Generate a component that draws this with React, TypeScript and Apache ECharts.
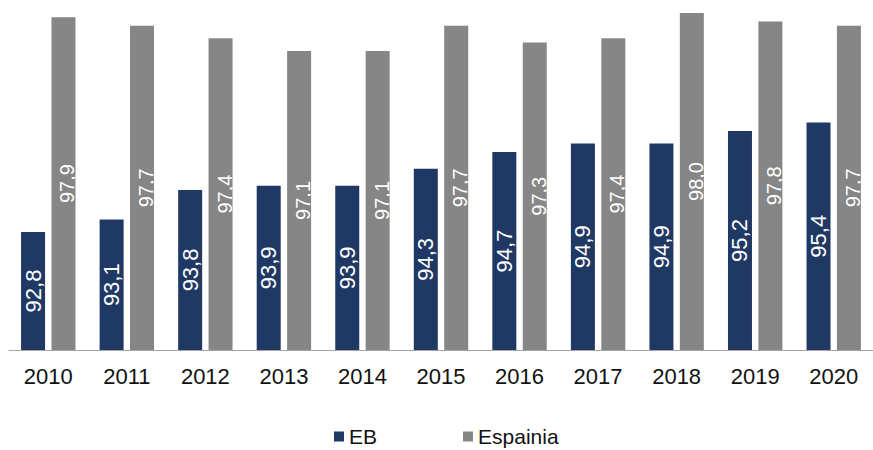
import React, { useEffect, useRef } from "react";
import * as echarts from "echarts";

const years = ["2010", "2011", "2012", "2013", "2014", "2015", "2016", "2017", "2018", "2019", "2020"];
const ebValues = [92.8, 93.1, 93.8, 93.9, 93.9, 94.3, 94.7, 94.9, 94.9, 95.2, 95.4];
const espainiaValues = [97.9, 97.7, 97.4, 97.1, 97.1, 97.7, 97.3, 97.4, 98.0, 97.8, 97.7];

const FONT = "Arial, 'Liberation Sans', sans-serif";
const fmt = (p: any) => Number(p.value).toFixed(1).replace(".", ",");

export default function App() {
  const ref = useRef<HTMLDivElement>(null);
  useEffect(() => {
    if (!ref.current) return;
    const chart = echarts.init(ref.current, null, { renderer: "svg" });
    chart.setOption({
      animation: false,
      backgroundColor: "#ffffff",
      grid: { left: 9, width: 876, top: 13, height: 337, containLabel: false },
      legend: {
        left: 334,
        top: 426,
        padding: 0,
        itemWidth: 10,
        itemHeight: 10,
        itemGap: 86,
        icon: "rect",
        textStyle: { fontFamily: FONT, fontSize: 21, lineHeight: 18, color: "#111111" },
        data: ["EB", "Espainia"],
      },
      xAxis: {
        type: "category",
        data: years,
        axisLine: { show: true, lineStyle: { color: "#a6a6a6", width: 1 } },
        axisTick: { show: false },
        axisLabel: { fontFamily: FONT, fontSize: 22, color: "#111111", margin: 15 },
        splitLine: { show: false },
      },
      yAxis: {
        type: "value",
        min: 90,
        max: 98,
        show: false,
        splitLine: { show: false },
      },
      series: [
        {
          name: "EB",
          type: "bar",
          data: ebValues,
          barWidth: 24,
          barGap: "26.7%",
          itemStyle: { color: "#1f3864" },
          label: {
            show: true,
            position: "inside",
            rotate: 90,
            formatter: fmt,
            color: "#ffffff",
            fontFamily: FONT,
            fontSize: 22,
          },
        },
        {
          name: "Espainia",
          type: "bar",
          data: espainiaValues,
          barWidth: 24,
          itemStyle: { color: "#868686" },
          label: {
            show: true,
            position: "inside",
            rotate: 90,
            formatter: fmt,
            color: "#ffffff",
            fontFamily: FONT,
            fontSize: 20,
            offset: [0, 4],
          },
        },
      ],
    });
    return () => chart.dispose();
  }, []);
  return <div ref={ref} style={{ width: 873, height: 450, position: "absolute", left: 0, top: 0 }} />;
}
